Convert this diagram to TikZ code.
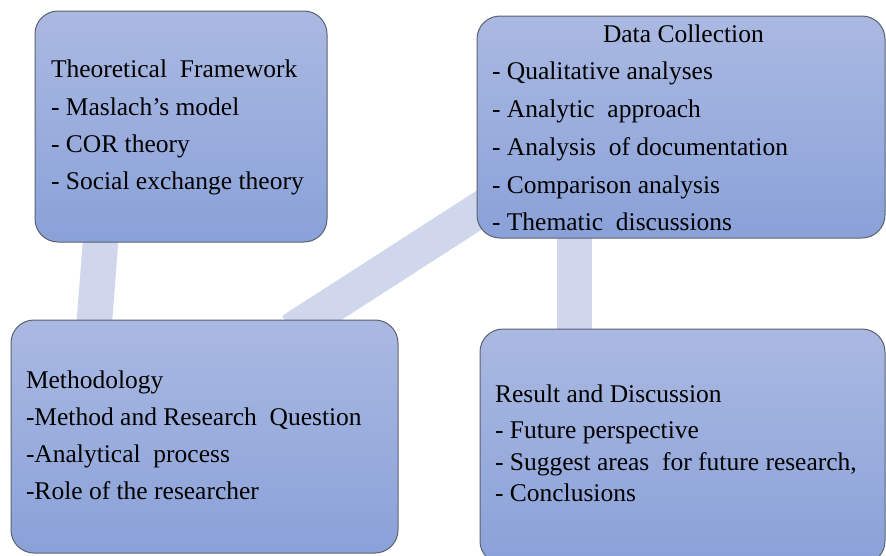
\documentclass[tikz,border=0pt]{standalone}
\usepackage{fontspec}
\setmainfont{Liberation Serif}
\definecolor{boxtop}{HTML}{AAB9E2}
\definecolor{boxbot}{HTML}{8AA1D8}
\definecolor{boxline}{HTML}{5C6170}
\definecolor{bandfill}{HTML}{D0D7EC}
\pgfdeclarelayer{background}
\pgfsetlayers{background,main}
\begin{document}
\begin{tikzpicture}[x=1pt,y=-1pt,
  box/.style={draw=boxline, line width=1pt, rounded corners=23pt,
    top color=boxtop, bottom color=boxbot, inner sep=0pt, outer sep=0pt,
    anchor=north west},
  band/.style={draw=bandfill, line width=35.5pt,
    shorten <=-20pt, shorten >=-20pt},
  txt/.style={anchor=base west, inner sep=0pt, outer sep=0pt,
    font=\fontsize{25.5}{30}\selectfont}]
\useasboundingbox (0,0) rectangle (886,555);
\clip (0,0) rectangle (886,555);

% boxes
\node[box, minimum width=292pt, minimum height=231pt] (tf) at (35,11) {};
\node[box, minimum width=408pt, minimum height=222pt] (dc) at (477,16) {};
\node[box, minimum width=387pt, minimum height=233pt] (meth) at (11,320) {};
\node[box, minimum width=405pt, minimum height=235pt] (rd) at (480,329) {};

% connecting bands behind the boxes
\begin{pgfonlayer}{background}
  \draw[band] ([xshift=65.5pt]tf.south west) -- ([xshift=83.5pt]meth.north west);
  \draw[band] ([xshift=297.5pt]meth.north west) -- ([yshift=-195.5pt]dc.north west);
  \draw[band] ([xshift=97.5pt]dc.south west) -- ([xshift=94.5pt]rd.north west);
\end{pgfonlayer}

% Theoretical Framework
\node[txt] (tf0) at (51,77)  {Theoretical\ \ Framework};
\node[txt] (tf1) at (51,115) {- Maslach{\char"0027}s model};
\node[txt] (tf2) at (51,152) {- COR theory};
\node[txt] (tf3) at (51,189) {- Social exchange theory};

% Data Collection
\node[txt] (dc0) at (603,42)  {Data Collection};
\node[txt] (dc1) at (492,79)  {- Qualitative analyses};
\node[txt] (dc2) at (492,117) {- Analytic\ \ approach};
\node[txt] (dc3) at (492,155) {- Analysis\ \ of documentation};
\node[txt] (dc4) at (492,193) {- Comparison analysis};
\node[txt] (dc5) at (492,230) {- Thematic\ \ discussions};

% Methodology
\node[txt] (m0) at (26,388) {Methodology};
\node[txt] (m1) at (26,425) {-Method and Research\ \ Question};
\node[txt] (m2) at (26,462) {-Analytical\ \ process};
\node[txt] (m3) at (26,499) {-Role of the researcher};

% Result and Discussion
\node[txt] (rd0) at (495,402)   {Result and Discussion};
\node[txt] (rd1) at (495,438.5) {- Future perspective};
\node[txt] (rd2) at (495,470)   {- Suggest areas\ \ for future research,};
\node[txt] (rd3) at (495,501)   {- Conclusions};
\end{tikzpicture}
\end{document}
